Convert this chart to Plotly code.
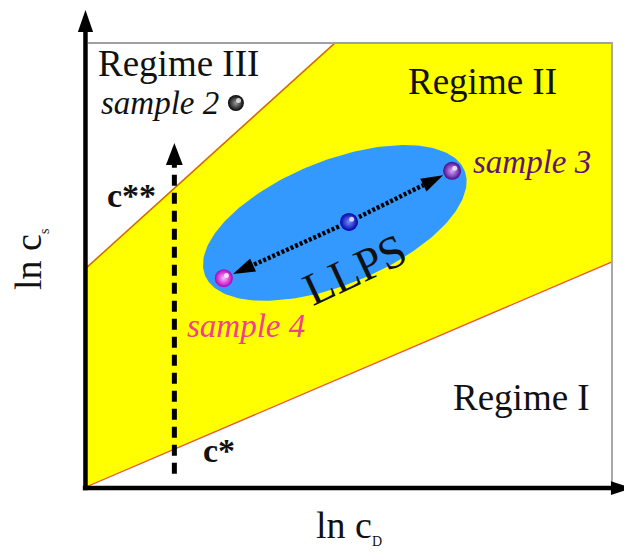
import numpy as np
import plotly.graph_objects as go

# ---------------- data (schematic units: ln c_D , ln c_s) ----------------
frame_x = [0.0, 10.0]            # ln c_D extent of the diagram box
frame_y = [0.0, 8.44]            # ln c_s extent of the diagram box
cstar_x = [0.0, 10.0]            # lower boundary  c*
cstar_y = [0.0, 4.28]
cstar2_x = [0.0, 4.73]           # upper boundary  c**
cstar2_y = [4.16, 8.44]
llps_center = [4.73, 5.02]       # LLPS domain (ellipse)
llps_semi_axes = [2.66, 1.18]
llps_tilt_deg = 22.0
sample_names = ["sample 2", "sample 3", "centre", "sample 4"]
sample_x = [2.85, 6.96, 5.00, 2.62]
sample_y = [7.30, 6.01, 5.04, 3.97]
scan_x = 1.68                    # dashed scan at fixed ln c_D
scan_y = [0.25, 6.54]
regime_labels = ["Regime I", "Regime II", "Regime III"]

# ---------------- layout geometry ----------------
U = 52.6            # px per unit (same on both axes)
X0, Y0 = 86, 487    # pixel position of origin
W, H = 624, 554
xr = [-X0 / U, (W - X0) / U]
yr = [(Y0 - H) / U, Y0 / U]

FONT = "Liberation Serif"

fig = go.Figure()

# Regime II (yellow band between the two boundaries)
poly_x = [cstar_x[0], cstar2_x[0], cstar2_x[1], frame_x[1], cstar_x[1], cstar_x[0]]
poly_y = [cstar_y[0], cstar2_y[0], cstar2_y[1], frame_y[1], cstar_y[1], cstar_y[0]]
fig.add_trace(go.Scatter(x=poly_x, y=poly_y, fill="toself", fillcolor="#FFFF00",
                         mode="lines", line=dict(width=0), hoverinfo="skip"))

# boundaries
fig.add_trace(go.Scatter(x=cstar2_x, y=cstar2_y, mode="lines",
                         line=dict(color="#D07000", width=1.6), hoverinfo="skip"))
fig.add_trace(go.Scatter(x=cstar_x, y=cstar_y, mode="lines",
                         line=dict(color="#E8503A", width=1.2), hoverinfo="skip"))

# LLPS ellipse
t = np.linspace(0, 2 * np.pi, 200)
th = np.radians(llps_tilt_deg)
a, b = llps_semi_axes
ex = llps_center[0] + a * np.cos(t) * np.cos(th) - b * np.sin(t) * np.sin(th)
ey = llps_center[1] + a * np.cos(t) * np.sin(th) + b * np.sin(t) * np.cos(th)
fig.add_trace(go.Scatter(x=ex, y=ey, fill="toself", fillcolor="#3399FF",
                         mode="lines", line=dict(width=0), hoverinfo="skip"))

shapes = []


def head(tip, direction, length, half):
    d = np.asarray(direction, float)
    d = d / np.linalg.norm(d)
    n = np.array([-d[1], d[0]])
    tip = np.asarray(tip, float)
    base = tip - d * length
    p1 = base + n * half
    p2 = base - n * half
    return dict(type="path", xref="x", yref="y", layer="above",
                path=f"M {tip[0]},{tip[1]} L {p1[0]},{p1[1]} L {p2[0]},{p2[1]} Z",
                fillcolor="black", line=dict(width=0))


# dotted arrows from centre sample toward samples 3 and 4
c = np.array([sample_x[2], sample_y[2]])
for k in (1, 3):
    p = np.array([sample_x[k], sample_y[k]])
    d = (p - c) / np.linalg.norm(p - c)
    start = c + d * 0.21
    tip = p - d * 0.19
    hl = 0.42
    end = tip - d * hl
    fig.add_trace(go.Scatter(x=[start[0], end[0]], y=[start[1], end[1]], mode="lines",
                             line=dict(color="black", width=4.5, dash="3px,2px"),
                             hoverinfo="skip"))
    shapes.append(head(tip, d, hl, 0.135))

# dashed vertical scan arrow
fig.add_trace(go.Scatter(x=[scan_x, scan_x], y=[scan_y[0], scan_y[1] - 0.4], mode="lines",
                         line=dict(color="black", width=5, dash="11px,7px"),
                         hoverinfo="skip"))
shapes.append(head((scan_x, scan_y[1]), (0, 1), 0.42, 0.16))

# spheres
edge_cols = ["#050505", "#4A0A8A", "#0000A8", "#B000B8"]
core_cols = ["#9A9A9A", "#D9A8FF", "#7090FF", "#FFB8FF"]
sizes = [16, 18, 18, 18]
for i in range(4):
    fig.add_trace(go.Scatter(x=[sample_x[i]], y=[sample_y[i]], mode="markers",
                             marker=dict(size=sizes[i], color=edge_cols[i],
                                         gradient=dict(type="radial", color=core_cols[i]),
                                         line=dict(width=0)),
                             hoverinfo="skip", name=sample_names[i]))
    fig.add_trace(go.Scatter(x=[sample_x[i] + 0.05], y=[sample_y[i] + 0.05], mode="markers",
                             marker=dict(size=5, color="white", opacity=0.75,
                                         line=dict(width=0)),
                             hoverinfo="skip"))

# frame (grey top and right edges)
shapes.append(dict(type="line", xref="x", yref="y", x0=0.04, y0=frame_y[1], x1=frame_x[1], y1=frame_y[1],
                   line=dict(color="#A0A0A0", width=2), layer="above"))
shapes.append(dict(type="line", xref="x", yref="y", x0=frame_x[1], y0=frame_y[1] + 0.02, x1=frame_x[1], y1=0,
                   line=dict(color="#A8A8A8", width=2), layer="above"))

# axes with arrows
shapes.append(dict(type="line", xref="x", yref="y", x0=-0.01, y0=-0.06, x1=-0.01, y1=8.7,
                   line=dict(color="black", width=4.5), layer="above"))
shapes.append(head((-0.01, 9.07), (0, 1), 0.42, 0.145))
shapes.append(dict(type="line", xref="x", yref="y", x0=-0.06, y0=-0.02, x1=10.0, y1=-0.02,
                   line=dict(color="black", width=4.5), layer="above"))
shapes.append(head((10.38, -0.02), (1, 0), 0.40, 0.13))

fig.update_layout(shapes=shapes)

anns = []


def txt(x, y, s, size, color="#111111", angle=0, xanchor="center"):
    anns.append(dict(x=x, y=y, xref="x", yref="y", text=s, showarrow=False,
                     font=dict(family=FONT, size=size, color=color),
                     textangle=angle, xanchor=xanchor, yanchor="middle"))


txt(1.75, 8.06, regime_labels[2], 37)
txt(7.53, 7.70, regime_labels[1], 37)
txt(8.27, 1.70, regime_labels[0], 37)
txt(1.41, 7.30, "<i>" + sample_names[0] + "</i>", 33)
txt(8.48, 6.18, "<i>" + sample_names[1] + "</i>", 33, color="#5E1470")
txt(3.04, 3.06, "<i>" + sample_names[3] + "</i>", 33, color="#F2408E")
txt(0.86, 5.55, "<b>c**</b>", 34)
txt(2.53, 0.70, "<b>c*</b>", 34)
txt(5.11, 4.14, "LLPS", 46, angle=-25)
txt(5.0, -0.76, "ln c<sub><span style='font-size:14px'>D</span></sub>", 38)
txt(-1.06, 4.32, "ln c<sub><span style='font-size:14px'>s</span></sub>", 38, angle=-90)

fig.update_layout(
    annotations=anns,
    width=W, height=H,
    margin=dict(l=0, r=0, t=0, b=0),
    paper_bgcolor="white", plot_bgcolor="white",
    showlegend=False,
    xaxis=dict(range=xr, visible=False, fixedrange=True),
    yaxis=dict(range=yr, visible=False, fixedrange=True),
)

fig.write_html("out.html", config={"displayModeBar": False},
               post_script="document.body.style.margin='0';")
